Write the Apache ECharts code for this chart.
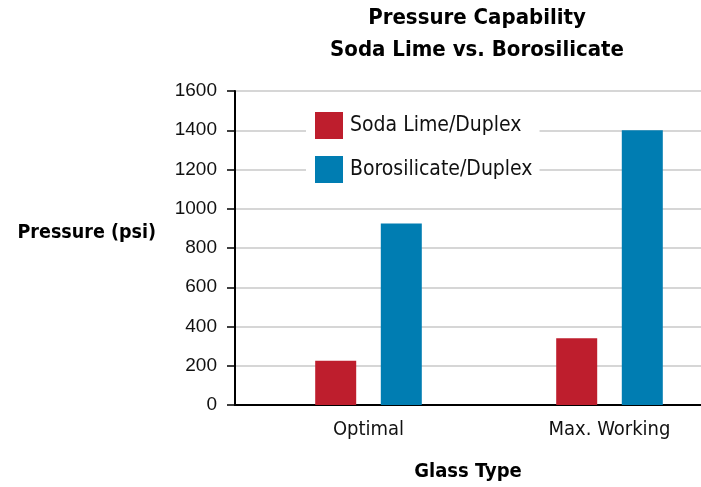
<!DOCTYPE html>
<html>
<head>
<meta charset="utf-8">
<script src="https://cdn.jsdelivr.net/npm/echarts@6/dist/echarts.min.js"></script>
<style>
  html, body { margin: 0; padding: 0; background: #fff; }
  #main { width: 701px; height: 487px; }
</style>
</head>
<body>
<div id="main"></div>
<script>
  // values
  var glassTypes = ['Optimal', 'Max. Working'];
  var sodaLime = [225, 340];
  var borosilicate = [925, 1400];
  var yTicks = [0, 200, 400, 600, 800, 1000, 1200, 1400, 1600];

  var narrow = "'Liberation Sans Narrow', 'DejaVu Sans Condensed', 'Liberation Sans', sans-serif";
  var regular = "'Liberation Sans', Arial, sans-serif";

  var chart = echarts.init(document.getElementById('main'));
  var option = {
    backgroundColor: '#fff',
    animation: false,
    title: [
      {
        text: 'Pressure Capability\nSoda Lime vs. Borosilicate',
        left: 472,
        top: -3,
        textAlign: 'center',
        textStyle: { fontFamily: narrow, fontWeight: 'bold', fontSize: 22, lineHeight: 32, color: '#000' }
      },
      {
        // y axis title, sits a little above the middle of the axis
        text: 'Pressure (psi)',
        left: 156,
        top: 233,
        textAlign: 'right',
        textVerticalAlign: 'middle',
        padding: 0,
        textStyle: { fontFamily: narrow, fontWeight: 'bold', fontSize: 19.5, color: '#000' }
      }
    ],
    legend: {
      orient: 'vertical',
      left: 306,
      top: 105,
      padding: [7, 7, 6, 9],
      backgroundColor: '#fff',
      itemWidth: 28,
      itemHeight: 27,
      itemGap: 17,
      icon: 'rect',
      textStyle: { fontFamily: narrow, fontSize: 21, color: '#111', padding: [0, 0, 0, 2] },
      data: ['Soda Lime/Duplex', 'Borosilicate/Duplex']
    },
    grid: [
      { left: 235, right: 0, top: 91, bottom: 82, containLabel: false, outerBoundsMode: 'none' },
      { left: 248, width: 482, top: 91, bottom: 82, containLabel: false, outerBoundsMode: 'none' }
    ],
    xAxis: [
      {
        gridIndex: 0,
        type: 'category',
        data: [''],
        axisLine: { lineStyle: { color: '#000', width: 2 } },
        axisTick: { show: false },
        axisLabel: { show: false },
        name: 'Glass Type',
        nameLocation: 'middle',
        nameGap: 57,
        nameTextStyle: { fontFamily: narrow, fontWeight: 'bold', fontSize: 20, color: '#000' }
      },
      {
        gridIndex: 1,
        type: 'category',
        data: glassTypes,
        axisLine: { show: false },
        axisTick: { show: false },
        axisLabel: { fontFamily: narrow, fontSize: 20, color: '#111', margin: 15 }
      }
    ],
    yAxis: [
      {
        gridIndex: 0,
        type: 'value',
        min: yTicks[0],
        max: yTicks[yTicks.length - 1],
        interval: 200,
        axisLine: { show: true, lineStyle: { color: '#000', width: 2 } },
        axisTick: { show: true, length: 8, lineStyle: { color: '#000', width: 1.5 } },
        axisLabel: {
          fontFamily: regular, fontSize: 19, color: '#111', margin: 18,
          formatter: function (v) { return String(v); }
        },
        splitLine: { lineStyle: { color: '#c8c8c8', width: 1.5 } }
      },
      {
        gridIndex: 1,
        type: 'value',
        min: yTicks[0],
        max: yTicks[yTicks.length - 1],
        show: false
      }
    ],
    series: [
      {
        name: 'Soda Lime/Duplex',
        type: 'bar',
        xAxisIndex: 1,
        yAxisIndex: 1,
        barWidth: 41,
        barGap: '60%',
        itemStyle: { color: '#be1e2d' },
        data: sodaLime
      },
      {
        name: 'Borosilicate/Duplex',
        type: 'bar',
        xAxisIndex: 1,
        yAxisIndex: 1,
        barWidth: 41,
        barGap: '60%',
        itemStyle: { color: '#007db2' },
        data: borosilicate
      }
    ]
  };
  chart.setOption(option);
</script>
</body>
</html>
